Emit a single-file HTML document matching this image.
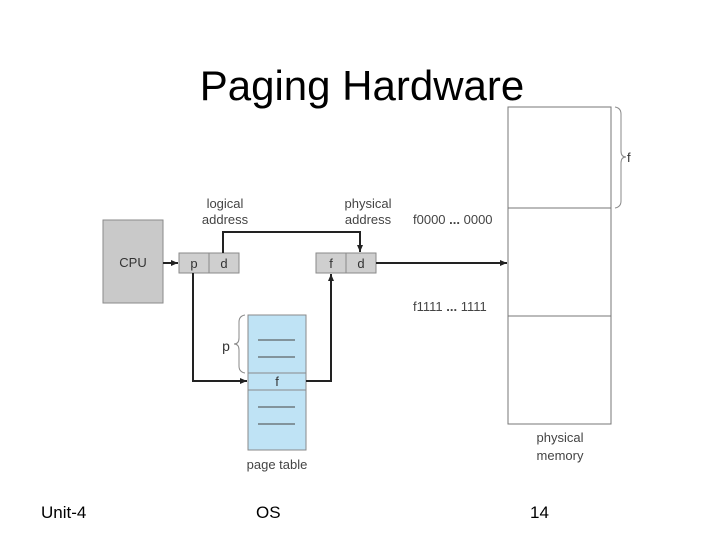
<!DOCTYPE html>
<html><head><meta charset="utf-8"><style>
html,body{margin:0;padding:0;background:#fff;}
body{width:728px;height:546px;position:relative;overflow:hidden;font-family:"Liberation Sans",sans-serif;}
.t{position:absolute;white-space:nowrap;}
</style></head><body>
<div class="t" style="left:0;width:728px;top:62px;text-align:center;font-size:42px;color:#000;"><span style="position:relative;left:-2px">Paging Hardware</span></div>
<svg width="728" height="546" style="position:absolute;left:0;top:0" xmlns="http://www.w3.org/2000/svg" font-family="Liberation Sans, sans-serif">
<defs><marker id="a" markerWidth="8" markerHeight="8" refX="7" refY="4" orient="auto" markerUnits="userSpaceOnUse"><path d="M0,1 L7,4 L0,7 Z" fill="#222"/></marker></defs>
<rect x="103" y="220" width="60" height="83" fill="#c9c9c9" stroke="#8a8a8a"/>
<text x="133" y="267" font-size="13" text-anchor="middle" fill="#333">CPU</text>
<line x1="163" y1="263" x2="178" y2="263" stroke="#222" stroke-width="2" marker-end="url(#a)"/>
<rect x="179" y="253" width="60" height="20" fill="#cfcfcf" stroke="#8a8a8a"/>
<line x1="209" y1="253" x2="209" y2="273" stroke="#8a8a8a"/>
<text x="194" y="268" font-size="13" text-anchor="middle" fill="#333">p</text>
<text x="224" y="268" font-size="13" text-anchor="middle" fill="#333">d</text>
<text x="225" y="208" font-size="13" text-anchor="middle" fill="#444">logical</text>
<text x="225" y="224" font-size="13" text-anchor="middle" fill="#444">address</text>
<rect x="316" y="253" width="60" height="20" fill="#cfcfcf" stroke="#8a8a8a"/>
<line x1="346" y1="253" x2="346" y2="273" stroke="#8a8a8a"/>
<text x="331" y="268" font-size="13" text-anchor="middle" fill="#333">f</text>
<text x="361" y="268" font-size="13" text-anchor="middle" fill="#333">d</text>
<text x="368" y="208" font-size="13" text-anchor="middle" fill="#444">physical</text>
<text x="368" y="224" font-size="13" text-anchor="middle" fill="#444">address</text>
<polyline points="223,253 223,232 360,232 360,252" fill="none" stroke="#222" stroke-width="2" marker-end="url(#a)"/>
<polyline points="193,273 193,381 247,381" fill="none" stroke="#222" stroke-width="2" marker-end="url(#a)"/>
<rect x="248" y="315" width="58" height="135" fill="#bfe3f5" stroke="#8a8a8a"/>
<line x1="248" y1="373" x2="306" y2="373" stroke="#8a8a8a"/>
<line x1="248" y1="390" x2="306" y2="390" stroke="#8a8a8a"/>
<g stroke="#444" stroke-width="1"><line x1="258" y1="340" x2="295" y2="340"/><line x1="258" y1="357" x2="295" y2="357"/><line x1="258" y1="407" x2="295" y2="407"/><line x1="258" y1="424" x2="295" y2="424"/></g>
<text x="277" y="386" font-size="13" text-anchor="middle" fill="#333">f</text>
<text x="277" y="469" font-size="13" text-anchor="middle" fill="#444">page table</text>
<path d="M245,315 Q239,316 239,322 L239,338 Q239,344 234,344 Q239,344 239,350 L239,366 Q239,372 245,373" fill="none" stroke="#888"/>
<text x="226" y="351" font-size="14" text-anchor="middle" fill="#333">p</text>
<polyline points="306,381 331,381 331,274" fill="none" stroke="#222" stroke-width="2" marker-end="url(#a)"/>
<line x1="376" y1="263" x2="507" y2="263" stroke="#222" stroke-width="2" marker-end="url(#a)"/>
<rect x="508" y="107" width="103" height="317" fill="#fff" stroke="#777"/>
<line x1="508" y1="208" x2="611" y2="208" stroke="#777"/>
<line x1="508" y1="316" x2="611" y2="316" stroke="#777"/>
<path d="M615,107 Q621,108 621,114 L621,151 Q621,157 626,157 Q621,157 621,163 L621,201 Q621,207 615,208" fill="none" stroke="#888"/>
<text x="627" y="162" font-size="13" fill="#333">f</text>
<text x="413" y="224" font-size="13" fill="#444">f0000 <tspan font-weight="bold">...</tspan> 0000</text>
<text x="413" y="311" font-size="13" fill="#444">f1111 <tspan font-weight="bold">...</tspan> 1111</text>
<text x="560" y="442" font-size="13" text-anchor="middle" fill="#444">physical</text>
<text x="560" y="460" font-size="13" text-anchor="middle" fill="#444">memory</text>
</svg>
<div class="t" style="left:41px;top:503px;font-size:17px;">Unit-4</div>
<div class="t" style="left:256px;top:503px;font-size:17px;">OS</div>
<div class="t" style="left:530px;top:503px;font-size:17px;">14</div>
</body></html>
